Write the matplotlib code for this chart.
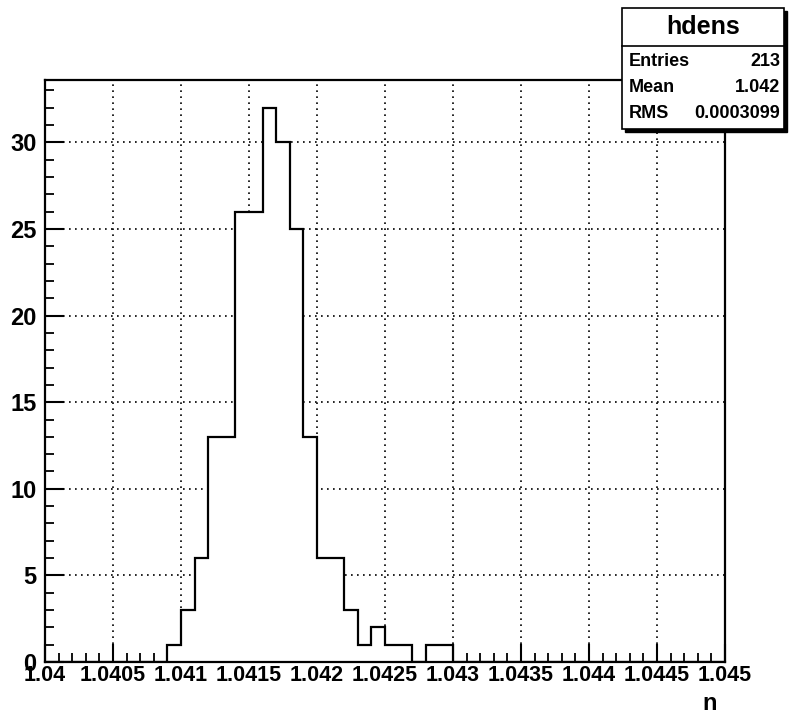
import numpy as np
import matplotlib

matplotlib.use("Agg")
import matplotlib.pyplot as plt
from matplotlib.patches import Rectangle
from matplotlib.lines import Line2D
from matplotlib.ticker import MultipleLocator


# histogram "hdens": 50 bins of width 0.0001 between 1.040 and 1.045
X_MIN = 1.040
X_MAX = 1.045
N_BINS = 50
COUNTS = [
    0, 0, 0, 0, 0, 0, 0, 0, 0, 1,
    3, 6, 13, 13, 26, 26, 32, 30, 25, 13,
    6, 6, 3, 1, 2, 1, 1, 0, 1, 1,
    0, 0, 0, 0, 0, 0, 0, 0, 0, 0,
    0, 0, 0, 0, 0, 0, 0, 0, 0, 0,
]
X_TICKS = [1.04, 1.0405, 1.041, 1.0415, 1.042, 1.0425,
           1.043, 1.0435, 1.044, 1.0445, 1.045]
Y_TICKS = [0, 5, 10, 15, 20, 25, 30]

STATS_TITLE = "hdens"
STATS_ROWS = [("Entries", "213"), ("Mean", "1.042"), ("RMS", "0.0003099")]

FONT = "Liberation Sans"


def main() -> None:
    plt.rcParams["font.family"] = [FONT, "DejaVu Sans"]
    plt.rcParams["font.weight"] = "bold"

    fig = plt.figure(figsize=(7.92, 7.16), dpi=100)
    W, H = 792, 716
    ax = fig.add_axes([45 / W, 1 - 662 / H, 680 / W, 582 / H])

    edges = np.linspace(X_MIN, X_MAX, N_BINS + 1)
    counts = np.array(COUNTS, dtype=float)

    ax.set_axisbelow(True)
    ax.grid(True, which="major", color="black", linestyle=(0, (1, 2.6)),
            linewidth=1.2)
    # white fill hides the grid under the histogram, like ROOT does
    ax.stairs(counts, edges, fill=True, facecolor="white", edgecolor="none",
              zorder=1)
    ax.stairs(counts, edges, color="black", linewidth=1.6, zorder=2)

    ax.set_xlim(X_MIN, X_MAX)
    ax.set_ylim(0, 1.05 * counts.max())

    ax.set_xticks(X_TICKS)
    ax.set_xticklabels([f"{v:g}" for v in X_TICKS])
    ax.xaxis.set_minor_locator(MultipleLocator(0.0001))
    ax.set_yticks(Y_TICKS)
    ax.yaxis.set_minor_locator(MultipleLocator(1))

    ax.tick_params(which="both", direction="in", top=False, right=False,
                   width=1.5, colors="black")
    ax.tick_params(axis="x", which="major", length=13, pad=2, labelsize=15.5)
    ax.tick_params(axis="y", which="major", length=14, pad=6, labelsize=17)
    ax.tick_params(which="minor", length=6.5, width=1.3)
    for lab in ax.get_xticklabels() + ax.get_yticklabels():
        lab.set_fontweight("bold")

    for sp in ax.spines.values():
        sp.set_linewidth(1.6)

    fig.text(717 / W, 1 - 704 / H, "n", ha="right", va="center",
             fontsize=17, fontweight="bold")

    # stats box (top right, with ROOT style shadow)
    bx0, by0, bx1, by1 = 622, 8, 784, 129
    shadow = Rectangle(((bx0 + 3) / W, 1 - (by1 + 3) / H),
                       (bx1 - bx0) / W, (by1 - by0) / H,
                       transform=fig.transFigure, facecolor="black",
                       edgecolor="black", zorder=9)
    box = Rectangle((bx0 / W, 1 - by1 / H), (bx1 - bx0) / W, (by1 - by0) / H,
                    transform=fig.transFigure, facecolor="white",
                    edgecolor="black", linewidth=1.2, zorder=10)
    fig.add_artist(shadow)
    fig.add_artist(box)
    sep_y = 46
    fig.add_artist(Line2D([bx0 / W, bx1 / W], [1 - sep_y / H, 1 - sep_y / H],
                          transform=fig.transFigure, color="black",
                          linewidth=1.2, zorder=11))
    fig.text((bx0 + bx1) / 2 / W, 1 - 27 / H, STATS_TITLE, ha="center",
             va="center", fontsize=18, fontweight="bold", zorder=12)
    row_ys = [61, 87, 113]
    for (name, value), ry in zip(STATS_ROWS, row_ys):
        fig.text((bx0 + 7) / W, 1 - ry / H, name, ha="left", va="center",
                 fontsize=13, fontweight="bold", zorder=12)
        fig.text((bx1 - 4) / W, 1 - ry / H, value, ha="right", va="center",
                 fontsize=13, fontweight="bold", zorder=12)

    fig.savefig("out.png", dpi=100, facecolor="white")


if __name__ == "__main__":
    main()
